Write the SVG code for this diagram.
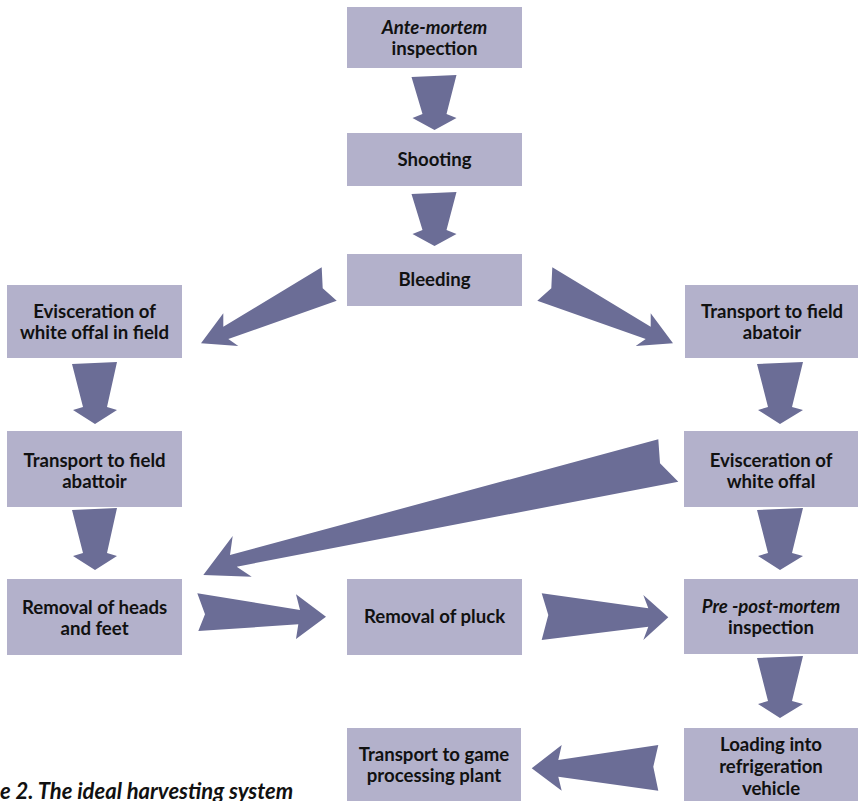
<svg xmlns="http://www.w3.org/2000/svg" width="858" height="801" viewBox="0 0 858 801">
<style>
.box{fill:#b3b1cb}
.arr{fill:#6b6d96}
.t{font-family:Lato,"Open Sans","Liberation Sans",sans-serif;font-weight:bold;font-size:18.6px;fill:#111;text-anchor:middle}
.i{font-style:italic}
.cap{font-family:Lato,"Liberation Sans",sans-serif;font-weight:bold;font-style:italic;font-size:22px;fill:#111}
</style>
<rect width="858" height="801" fill="#fff"/>
<g id="connectors">
<polygon class="arr" points="411.5,77 456.5,75 446.5,114 456.5,118 434.5,130 412.5,118 422.5,114"/>
<polygon class="arr" points="411.5,194 456.5,192 446.5,230 456.5,234 434.5,246 412.5,234 422.5,230"/>
<polygon class="arr" points="72,364 117,362 107,407 117,410 95,424 73,410 83,407"/>
<polygon class="arr" points="72,510 117,508 107,553 117,556 95,570 73,556 83,553"/>
<polygon class="arr" points="757,364 803,362 792,407 803,410 780,424 758,410 768,407"/>
<polygon class="arr" points="757,510 803,508 792,553 803,556 780,570 758,556 768,553"/>
<polygon class="arr" points="757,658 803,656 792,701 803,704 780,718 758,704 768,701"/>
<polygon class="arr" points="321.7,267.3 322.7,288.3 336.7,300.7 228.3,339 238.3,346 201,343.3 223.3,313.3 223.3,326.7"/>
<polygon class="arr" points="552.3,267.3 551.3,288.3 537.3,300.7 645.7,339 635.7,346 673,343.3 650.7,313.3 650.7,326.7"/>
<polygon class="arr" points="658.3,439.3 660,463.3 678.3,481.7 236.7,566.7 251.7,576.7 203.3,575 232.7,536 230,555"/>
<polygon class="arr" points="197.3,593.3 205,614.3 198.3,631 298.3,624.3 296,639 326,616.7 296,594.3 300,610"/>
<polygon class="arr" points="541.7,593.3 548.3,615 541.7,640 648.3,626.7 643.3,640 668.3,617.3 643.3,595 648.3,608.3"/>
<polygon class="arr" points="658.3,745 653.3,766.7 658.3,790.7 558.3,776.7 561.7,790.7 531.7,768.3 561.7,745 558.3,760"/>
</g>
<g id="n1"><rect class="box" x="347" y="7" width="175" height="61"/><text class="t" x="434.5" y="34"><tspan class="i">Ante-mortem</tspan></text><text class="t" x="434.5" y="55">inspection</text></g>
<g id="n2"><rect class="box" x="347" y="133" width="175" height="53"/><text class="t" x="434.5" y="166">Shooting</text></g>
<g id="n3"><rect class="box" x="347" y="254" width="175" height="52"/><text class="t" x="434.5" y="286">Bleeding</text></g>
<g id="n4"><rect class="box" x="7" y="285" width="175" height="73"/><text class="t" x="94.5" y="318">Evisceration of</text><text class="t" x="94.5" y="339">white offal in field</text></g>
<g id="n5"><rect class="box" x="685" y="285" width="173" height="73"/><text class="t" x="772" y="318">Transport to field</text><text class="t" x="772" y="339">abatoir</text></g>
<g id="n6"><rect class="box" x="7" y="431" width="175" height="76"/><text class="t" x="94.5" y="467">Transport to field</text><text class="t" x="94.5" y="488">abattoir</text></g>
<g id="n7"><rect class="box" x="684" y="431" width="174" height="76"/><text class="t" x="771" y="467">Evisceration of</text><text class="t" x="771" y="488">white offal</text></g>
<g id="n8"><rect class="box" x="7" y="579" width="175" height="76"/><text class="t" x="94.5" y="614">Removal of heads</text><text class="t" x="94.5" y="635">and feet</text></g>
<g id="n9"><rect class="box" x="347" y="579" width="175" height="76"/><text class="t" x="434.5" y="623">Removal of pluck</text></g>
<g id="n10"><rect class="box" x="684" y="579" width="174" height="75"/><text class="t" x="771" y="613"><tspan class="i">Pre -post-mortem</tspan></text><text class="t" x="771" y="634">inspection</text></g>
<g id="n11"><rect class="box" x="684" y="728" width="174" height="73"/><text class="t" x="771" y="751">Loading into</text><text class="t" x="771" y="773">refrigeration</text><text class="t" x="771" y="795">vehicle</text></g>
<g id="n12"><rect class="box" x="347" y="728" width="174" height="73"/><text class="t" x="434" y="761">Transport to game</text><text class="t" x="434" y="782">processing plant</text></g>
<text class="cap" x="0" y="799">e 2. The ideal harvesting system</text>
</svg>
